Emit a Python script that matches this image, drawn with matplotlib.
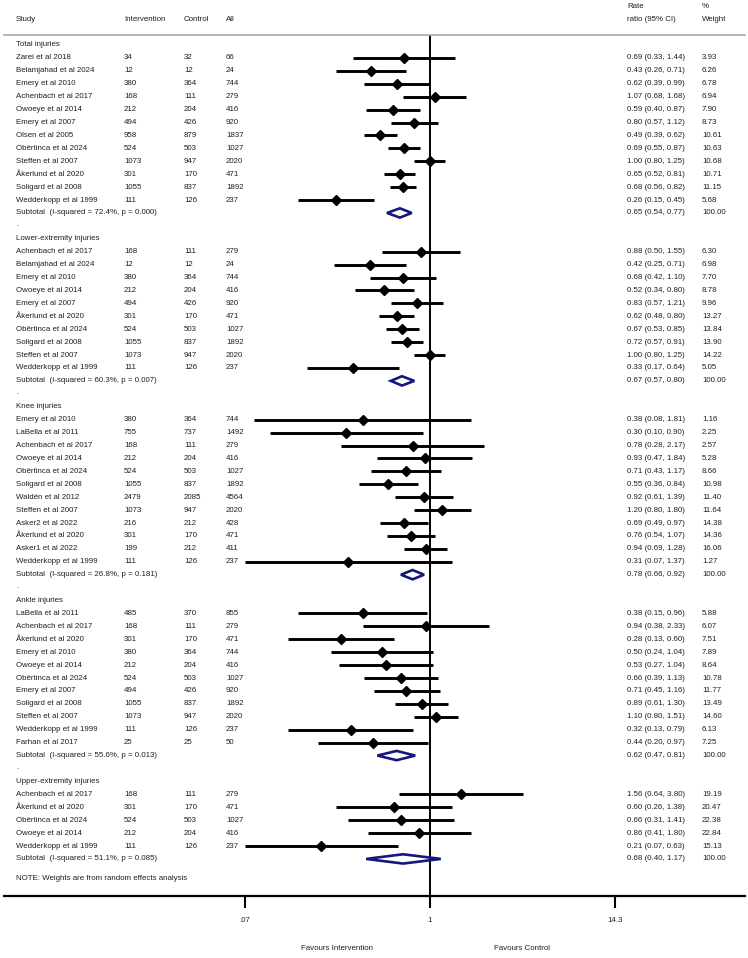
import matplotlib
matplotlib.use("Agg")
import matplotlib.pyplot as plt
from matplotlib import transforms
from matplotlib.patches import Polygon
from matplotlib.ticker import NullLocator, FixedLocator, FixedFormatter

plt.rcParams['font.family'] = ['Liberation Sans', 'DejaVu Sans']

# ── Data ───────────────────────────────────────────────────────────────────────

total_studies = ["Zarei et al 2018", "Belamjahad et al 2024", "Emery et al 2010",
                 "Achenbach et al 2017", "Owoeye et al 2014", "Emery et al 2007",
                 "Olsen et al 2005", "Obërtinca et al 2024", "Steffen et al 2007",
                 "Åkerlund et al 2020", "Soligard et al 2008", "Wedderkopp et al 1999"]
total_int  = [34, 12, 380, 168, 212, 494, 958, 524, 1073, 301, 1055, 111]
total_ctl  = [32, 12, 364, 111, 204, 426, 879, 503, 947, 170, 837, 126]
total_all  = [66, 24, 744, 279, 416, 920, 1837, 1027, 2020, 471, 1892, 237]
total_rr   = [0.69, 0.43, 0.62, 1.07, 0.59, 0.80, 0.49, 0.69, 1.00, 0.65, 0.68, 0.26]
total_lo   = [0.33, 0.26, 0.39, 0.68, 0.40, 0.57, 0.39, 0.55, 0.80, 0.52, 0.56, 0.15]
total_hi   = [1.44, 0.71, 0.99, 1.68, 0.87, 1.12, 0.62, 0.87, 1.25, 0.81, 0.82, 0.45]
total_w    = [3.93, 6.26, 6.78, 6.94, 7.90, 8.73, 10.61, 10.63, 10.68, 10.71, 11.15, 5.68]
total_sub  = (0.65, 0.54, 0.77, "72.4%", "0.000")

lower_studies = ["Achenbach et al 2017", "Belamjahad et al 2024", "Emery et al 2010",
                 "Owoeye et al 2014", "Emery et al 2007", "Åkerlund et al 2020",
                 "Obërtinca et al 2024", "Soligard et al 2008", "Steffen et al 2007",
                 "Wedderkopp et al 1999"]
lower_int  = [168, 12, 380, 212, 494, 301, 524, 1055, 1073, 111]
lower_ctl  = [111, 12, 364, 204, 426, 170, 503, 837, 947, 126]
lower_all  = [279, 24, 744, 416, 920, 471, 1027, 1892, 2020, 237]
lower_rr   = [0.88, 0.42, 0.68, 0.52, 0.83, 0.62, 0.67, 0.72, 1.00, 0.33]
lower_lo   = [0.50, 0.25, 0.42, 0.34, 0.57, 0.48, 0.53, 0.57, 0.80, 0.17]
lower_hi   = [1.55, 0.71, 1.10, 0.80, 1.21, 0.80, 0.85, 0.91, 1.25, 0.64]
lower_w    = [6.30, 6.98, 7.70, 8.78, 9.96, 13.27, 13.84, 13.90, 14.22, 5.05]
lower_sub  = (0.67, 0.57, 0.80, "60.3%", "0.007")

knee_studies = ["Emery et al 2010", "LaBella et al 2011", "Achenbach et al 2017",
                "Owoeye et al 2014", "Obërtinca et al 2024", "Soligard et al 2008",
                "Waldén et al 2012", "Steffen et al 2007", "Asker2 et al 2022",
                "Åkerlund et al 2020", "Asker1 et al 2022", "Wedderkopp et al 1999"]
knee_int  = [380, 755, 168, 212, 524, 1055, 2479, 1073, 216, 301, 199, 111]
knee_ctl  = [364, 737, 111, 204, 503, 837, 2085, 947, 212, 170, 212, 126]
knee_all  = [744, 1492, 279, 416, 1027, 1892, 4564, 2020, 428, 471, 411, 237]
knee_rr   = [0.38, 0.30, 0.78, 0.93, 0.71, 0.55, 0.92, 1.20, 0.69, 0.76, 0.94, 0.31]
knee_lo   = [0.08, 0.10, 0.28, 0.47, 0.43, 0.36, 0.61, 0.80, 0.49, 0.54, 0.69, 0.07]
knee_hi   = [1.81, 0.90, 2.17, 1.84, 1.17, 0.84, 1.39, 1.80, 0.97, 1.07, 1.28, 1.37]
knee_w    = [1.16, 2.25, 2.57, 5.28, 8.66, 10.98, 11.40, 11.64, 14.38, 14.36, 16.06, 1.27]
knee_sub  = (0.78, 0.66, 0.92, "26.8%", "0.181")

ankle_studies = ["LaBella et al 2011", "Achenbach et al 2017", "Åkerlund et al 2020",
                 "Emery et al 2010", "Owoeye et al 2014", "Obërtinca et al 2024",
                 "Emery et al 2007", "Soligard et al 2008", "Steffen et al 2007",
                 "Wedderkopp et al 1999", "Farhan et al 2017"]
ankle_int  = [485, 168, 301, 380, 212, 524, 494, 1055, 1073, 111, 25]
ankle_ctl  = [370, 111, 170, 364, 204, 503, 426, 837, 947, 126, 25]
ankle_all  = [855, 279, 471, 744, 416, 1027, 920, 1892, 2020, 237, 50]
ankle_rr   = [0.38, 0.94, 0.28, 0.50, 0.53, 0.66, 0.71, 0.89, 1.10, 0.32, 0.44]
ankle_lo   = [0.15, 0.38, 0.13, 0.24, 0.27, 0.39, 0.45, 0.61, 0.80, 0.13, 0.20]
ankle_hi   = [0.96, 2.33, 0.60, 1.04, 1.04, 1.13, 1.16, 1.30, 1.51, 0.79, 0.97]
ankle_w    = [5.88, 6.07, 7.51, 7.89, 8.64, 10.78, 11.77, 13.49, 14.60, 6.13, 7.25]
ankle_sub  = (0.62, 0.47, 0.81, "55.6%", "0.013")

upper_studies = ["Achenbach et al 2017", "Åkerlund et al 2020", "Obërtinca et al 2024",
                 "Owoeye et al 2014", "Wedderkopp et al 1999"]
upper_int  = [168, 301, 524, 212, 111]
upper_ctl  = [111, 170, 503, 204, 126]
upper_all  = [279, 471, 1027, 416, 237]
upper_rr   = [1.56, 0.60, 0.66, 0.86, 0.21]
upper_lo   = [0.64, 0.26, 0.31, 0.41, 0.07]
upper_hi   = [3.80, 1.38, 1.41, 1.80, 0.63]
upper_w    = [19.19, 20.47, 22.38, 22.84, 15.13]
upper_sub  = (0.68, 0.40, 1.17, "51.1%", "0.085")

tick_vals   = [0.07, 1, 14.3]
tick_labels = [".07", "1", "14.3"]

sections = [
    ("Total injuries", total_studies, total_int, total_ctl, total_all,
     total_rr, total_lo, total_hi, total_w, total_sub),
    ("Lower-extremity injuries", lower_studies, lower_int, lower_ctl, lower_all,
     lower_rr, lower_lo, lower_hi, lower_w, lower_sub),
    ("Knee injuries", knee_studies, knee_int, knee_ctl, knee_all,
     knee_rr, knee_lo, knee_hi, knee_w, knee_sub),
    ("Ankle injuries", ankle_studies, ankle_int, ankle_ctl, ankle_all,
     ankle_rr, ankle_lo, ankle_hi, ankle_w, ankle_sub),
    ("Upper-extremity injuries", upper_studies, upper_int, upper_ctl, upper_all,
     upper_rr, upper_lo, upper_hi, upper_w, upper_sub),
]

# ── Layout (pixel positions of the 748x958 canvas) ─────────────────────────────

W, H = 748, 958
FS = 5.7
TXT = "#202020"
NAVY = "#14187a"

fig = plt.figure(figsize=(W / 100, H / 100), dpi=100)
ax = fig.add_axes([4 / W, (H - 896) / H, 741 / W, (896 - 35) / H])
ax.set_xscale("log")
ax.set_xlim(0.00218, 93.3)
ax.set_ylim(65.87, -0.774)

tr = transforms.blended_transform_factory(fig.transFigure, ax.transData)
col_x = {"study": 16 / W, "int": 124 / W, "ctl": 184 / W, "all": 226 / W,
         "ci": 627 / W, "w": 702 / W}


def put(col, y, s):
    ax.text(col_x[col], y, s, transform=tr, fontsize=FS, color=TXT,
            ha="left", va="center")


# header
put("study", -2.0, "Study")
put("int", -2.0, "Intervention")
put("ctl", -2.0, "Control")
put("all", -2.0, "All")
put("ci", -3.0, "Rate")
put("ci", -2.0, "ratio (95% CI)")
put("w", -3.0, "%")
put("w", -2.0, "Weight")

row = 0
for k, (title, studies, ni, nc, na, rr, lo, hi, w, sub) in enumerate(sections):
    put("study", row, title)
    row += 1
    for i in range(len(studies)):
        put("study", row, studies[i])
        put("int", row, str(ni[i]))
        put("ctl", row, str(nc[i]))
        put("all", row, str(na[i]))
        put("ci", row, f"{rr[i]:.2f} ({lo[i]:.2f}, {hi[i]:.2f})")
        put("w", row, f"{w[i]:.2f}")
        ax.plot([lo[i], hi[i]], [row, row], color="black", lw=2.1,
                solid_capstyle="butt", zorder=3)
        ax.plot(rr[i], row, marker="D", ms=4.6, color="black", zorder=4)
        row += 1
    s_rr, s_lo, s_hi, i2, p = sub
    put("study", row, f"Subtotal  (I-squared = {i2}, p = {p})")
    put("ci", row, f"{s_rr:.2f} ({s_lo:.2f}, {s_hi:.2f})")
    put("w", row, "100.00")
    ax.add_patch(Polygon([(s_lo, row), (s_rr, row - 0.36), (s_hi, row),
                          (s_rr, row + 0.36)], closed=True, fill=False,
                         edgecolor=NAVY, lw=1.9, zorder=4))
    row += 1
    if k < len(sections) - 1:
        put("study", row - 0.1, ".")
        row += 1

put("study", row + 0.5, "NOTE: Weights are from random effects analysis")

# null line
ax.axvline(1, color="black", lw=1.4, zorder=2)

# spines / axis
for s in ("left", "right"):
    ax.spines[s].set_visible(False)
ax.spines["top"].set_color("#a8a8a8")
ax.spines["top"].set_linewidth(1.2)
ax.spines["bottom"].set_color("black")
ax.spines["bottom"].set_linewidth(1.6)
ax.set_yticks([])
ax.xaxis.set_major_locator(FixedLocator(tick_vals))
ax.xaxis.set_major_formatter(FixedFormatter(tick_labels))
ax.xaxis.set_minor_locator(NullLocator())
ax.tick_params(axis="x", direction="out", length=8.5, width=1.5, pad=6.5,
               labelsize=FS, labelcolor=TXT)

ax.text((0.07 * 1) ** 0.5, 69.9, "Favours Intervention", fontsize=FS, color=TXT,
        ha="center", va="center", clip_on=False)
ax.text((1 * 14.3) ** 0.5, 69.9, "Favours Control", fontsize=FS, color=TXT,
        ha="center", va="center", clip_on=False)

fig.savefig("out.png", dpi=100)
